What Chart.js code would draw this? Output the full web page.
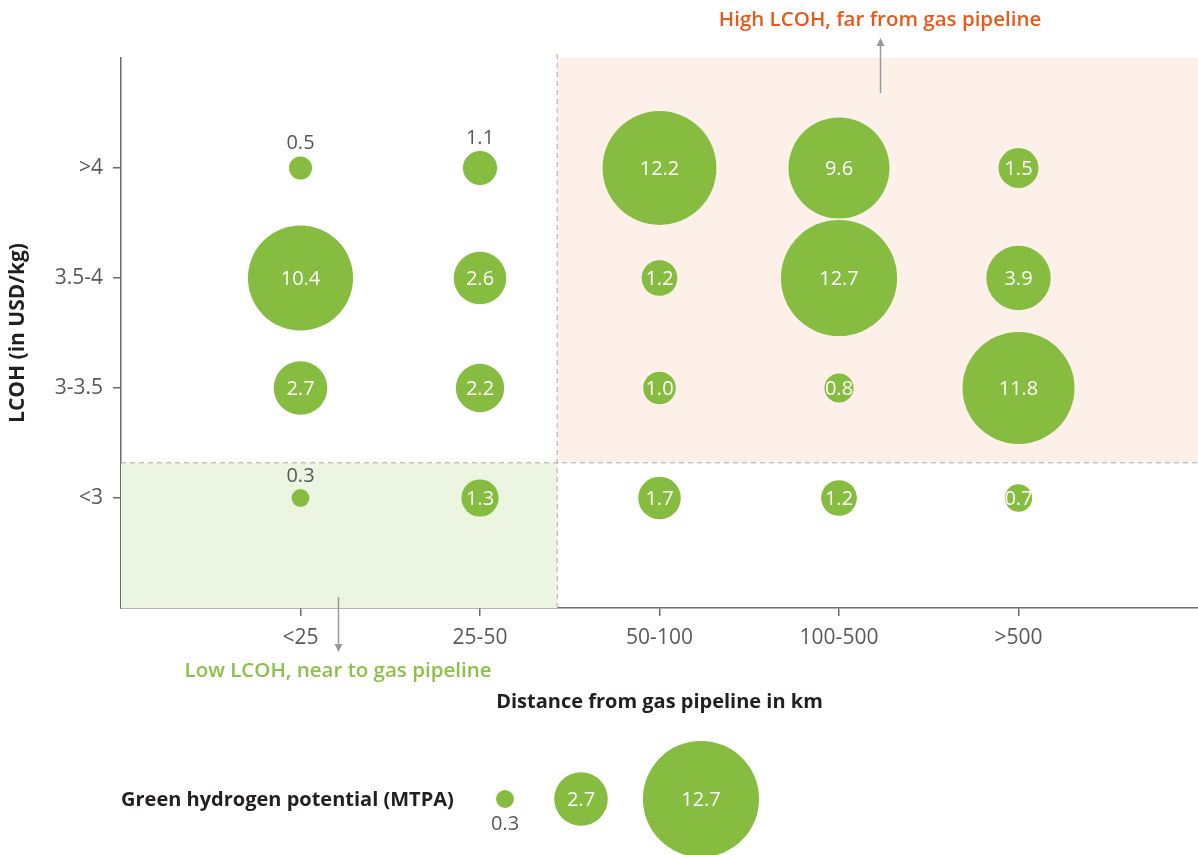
<!DOCTYPE html>
<html>
<head>
<meta charset="utf-8">
<script src="https://cdn.jsdelivr.net/npm/chart.js@4.4.1/dist/chart.umd.min.js"></script>
<style>
  html, body { margin: 0; padding: 0; background: #ffffff; }
  #wrap { width: 1198px; height: 855px; position: relative; }
</style>
</head>
<body>
<div id="wrap"><canvas id="c" width="1198" height="855"></canvas></div>
<script>
// ---------- data ----------
const distanceBands = ['<25', '25-50', '50-100', '100-500', '>500'];
const lcohBands = ['<3', '3-3.5', '3.5-4', '>4'];
const potentialBelow3 = [0.3, 1.3, 1.7, 1.2, 0.7];
const potential3to35 = [2.7, 2.2, 1.0, 0.8, 11.8];
const potential35to4 = [10.4, 2.6, 1.2, 12.7, 3.9];
const potentialAbove4 = [0.5, 1.1, 12.2, 9.6, 1.5];
const legendValues = [0.3, 2.7, 12.7];
// points whose value label sits above the bubble: [distance index, lcoh index]
const labelsAbove = [[0, 3], [1, 3], [0, 0]];
// shaded quadrant boundaries (in axis units)
const splitX = 1.43;
const splitY = 0.32;

const FONT = '"Open Sans", Lato, sans-serif';
const GREEN = '#86bc3f';
const GREY_TXT = '#58595b';
const AXIS = '#6b6b6b';
const R_SCALE = 16.3;
const radiusOf = v => R_SCALE * Math.sqrt(v);

const rows = [potentialBelow3, potential3to35, potential35to4, potentialAbove4];
const points = [];
rows.forEach((row, yi) => row.forEach((v, xi) => points.push({ x: xi, y: yi, v: v })));

const isAbove = p => labelsAbove.some(a => a[0] === p.x && a[1] === p.y);

// ---------- plugins ----------
const regionsPlugin = {
  id: 'regions',
  beforeDatasetsDraw(chart) {
    const { ctx, chartArea: ca, scales: { x, y } } = chart;
    const sx = x.getPixelForValue(splitX);
    const sy = y.getPixelForValue(splitY);
    ctx.save();
    ctx.fillStyle = '#fdf0e9';
    ctx.fillRect(sx, ca.top, ca.right - sx, sy - ca.top);
    ctx.fillStyle = '#ebf5e1';
    ctx.fillRect(ca.left, sy, sx - ca.left, ca.bottom - sy);
    ctx.strokeStyle = '#aaaaaa';
    ctx.lineWidth = 1;
    ctx.setLineDash([5, 4]);
    ctx.beginPath();
    ctx.moveTo(sx, ca.top - 4);
    ctx.lineTo(sx, ca.bottom);
    ctx.moveTo(ca.left, sy);
    ctx.lineTo(ca.right, sy);
    ctx.stroke();
    ctx.restore();
  }
};

const valueLabelPlugin = {
  id: 'valueLabels',
  afterDatasetsDraw(chart) {
    const { ctx } = chart;
    const meta = chart.getDatasetMeta(0);
    ctx.save();
    ctx.font = '20px ' + FONT;
    ctx.textAlign = 'center';
    ctx.textBaseline = 'middle';
    meta.data.forEach((el, i) => {
      const p = points[i];
      const r = radiusOf(p.v);
      const txt = p.v.toFixed(1);
      if (isAbove(p)) {
        ctx.fillStyle = GREY_TXT;
        ctx.fillText(txt, el.x, el.y - r - 13);
      } else {
        ctx.fillStyle = '#ffffff';
        ctx.fillText(txt, el.x, el.y + 1);
      }
    });
    ctx.restore();
  }
};

const annotationPlugin = {
  id: 'annotations',
  afterDraw(chart) {
    const { ctx } = chart;
    ctx.save();
    ctx.strokeStyle = '#9a9a9a';
    ctx.fillStyle = '#9a9a9a';
    ctx.lineWidth = 1.5;
    // up arrow (high LCOH)
    ctx.beginPath(); ctx.moveTo(880.5, 93); ctx.lineTo(880.5, 44); ctx.stroke();
    ctx.beginPath(); ctx.moveTo(880.5, 38); ctx.lineTo(876.5, 46); ctx.lineTo(884.5, 46); ctx.closePath(); ctx.fill();
    // down arrow (low LCOH)
    ctx.beginPath(); ctx.moveTo(338.5, 597); ctx.lineTo(338.5, 646); ctx.stroke();
    ctx.beginPath(); ctx.moveTo(338.5, 652); ctx.lineTo(334.5, 644); ctx.lineTo(342.5, 644); ctx.closePath(); ctx.fill();

    ctx.textAlign = 'center';
    ctx.textBaseline = 'middle';
    ctx.font = '600 20.5px ' + FONT;
    ctx.fillStyle = '#e8591c';
    ctx.fillText('High LCOH, far from gas pipeline', 880, 20);
    ctx.fillStyle = '#8cc04a';
    ctx.fillText('Low LCOH, near to gas pipeline', 338, 671);

    // size legend
    ctx.textAlign = 'left';
    ctx.fillStyle = '#231f20';
    ctx.font = 'bold 20px ' + FONT;
    ctx.fillText('Green hydrogen potential (MTPA)', 121, 800);
    const lx = [505, 581, 701];
    const ly = 799;
    legendValues.forEach((v, i) => {
      ctx.fillStyle = GREEN;
      ctx.beginPath();
      ctx.arc(lx[i], ly, radiusOf(v), 0, Math.PI * 2);
      ctx.fill();
      ctx.font = '20px ' + FONT;
      ctx.textAlign = 'center';
      ctx.textBaseline = 'middle';
      if (i === 0) {
        ctx.fillStyle = GREY_TXT;
        ctx.fillText(v.toFixed(1), lx[i], 824);
      } else {
        ctx.fillStyle = '#ffffff';
        ctx.fillText(v.toFixed(1), lx[i], ly + 1);
      }
    });
    ctx.restore();
  }
};

// ---------- chart ----------
const keepTicks = (min, max) => scale => {
  scale.ticks = scale.ticks.filter(t => t.value >= min && t.value <= max);
};

new Chart(document.getElementById('c'), {
  type: 'bubble',
  data: {
    datasets: [{
      data: points,
      backgroundColor: GREEN,
      borderWidth: 0,
      hoverBorderWidth: 0,
      radius: ctx => radiusOf(ctx.raw.v),
      hoverRadius: 0
    }]
  },
  options: {
    responsive: false,
    animation: false,
    events: [],
    layout: { autoPadding: false, padding: { top: 58, right: 0, bottom: 137, left: 0 } },
    plugins: { legend: { display: false }, tooltip: { enabled: false } },
    scales: {
      x: {
        type: 'linear',
        min: -1, max: 5,
        afterBuildTicks: keepTicks(0, distanceBands.length - 1),
        afterFit: s => { s.height = 110; s.paddingLeft = 0; s.paddingRight = 0; },
        ticks: {
          stepSize: 1,
          autoSkip: false,
          maxRotation: 0,
          padding: 9,
          color: GREY_TXT,
          font: { family: FONT, size: 21 },
          callback: v => distanceBands[v] ?? ''
        },
        grid: { drawOnChartArea: false, tickLength: 8, color: AXIS, lineWidth: 1.5 },
        border: { color: AXIS, width: 1.5 },
        title: {
          display: true,
          text: 'Distance from gas pipeline in km',
          color: '#231f20',
          font: { family: FONT, size: 20, weight: 'bold' },
          padding: { top: 0, bottom: 4 }
        }
      },
      y: {
        type: 'linear',
        min: -1, max: 4,
        afterBuildTicks: keepTicks(0, lcohBands.length - 1),
        afterFit: s => { s.width = 121; s.paddingTop = 0; s.paddingBottom = 0; },
        ticks: {
          stepSize: 1,
          autoSkip: false,
          padding: 10,
          color: GREY_TXT,
          font: { family: FONT, size: 21 },
          callback: v => lcohBands[v] ?? ''
        },
        grid: { drawOnChartArea: false, tickLength: 8, color: AXIS, lineWidth: 1.5 },
        border: { color: AXIS, width: 1.5 },
        title: {
          display: true,
          text: 'LCOH (in USD/kg)',
          color: '#231f20',
          font: { family: FONT, size: 21, weight: 'bold' },
          padding: { top: 5, bottom: 0 }
        }
      }
    }
  },
  plugins: [regionsPlugin, valueLabelPlugin, annotationPlugin]
});
</script>
</body>
</html>
